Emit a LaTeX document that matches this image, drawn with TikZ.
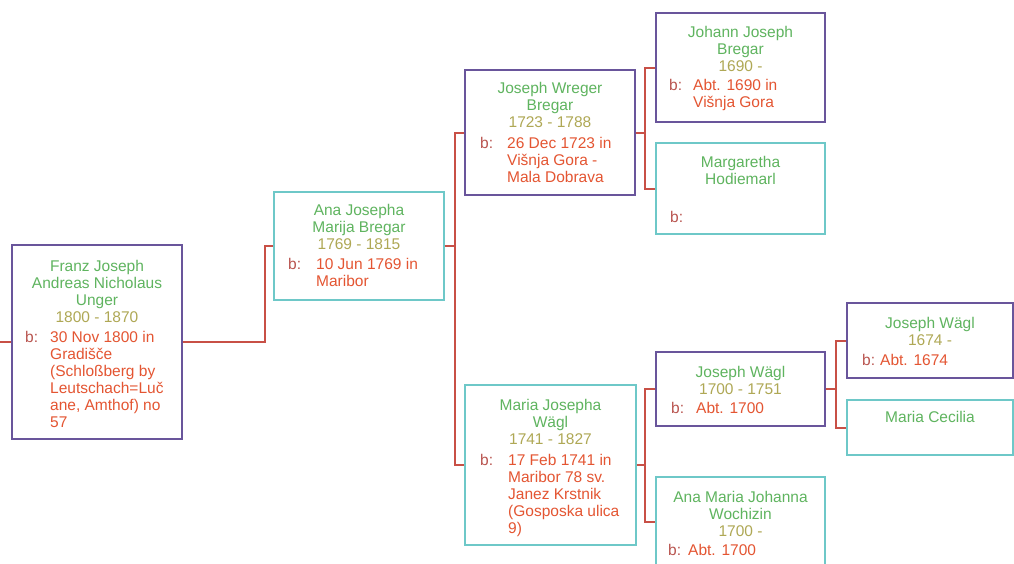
\documentclass[tikz,border=0pt]{standalone}
\usepackage{fontspec}
\setmainfont{Liberation Sans}
\definecolor{pborder}{RGB}{105,85,155}
\definecolor{cborder}{RGB}{110,200,200}
\definecolor{namegreen}{RGB}{95,180,95}
\definecolor{datecol}{RGB}{175,168,85}
\definecolor{bcol}{RGB}{185,85,80}
\definecolor{birthred}{RGB}{228,85,50}
\definecolor{linkred}{RGB}{200,80,70}
\tikzset{
  person/.style={draw, line width=1.8pt, fill=white, inner sep=0pt},
  dadbox/.style={person, draw=pborder},
  mombox/.style={person, draw=cborder},
  txt/.style={inner sep=0pt, font=\fontsize{15.5}{17}\selectfont},
  hdr/.style={txt, anchor=north, align=center, text=namegreen},
  blab/.style={txt, anchor=north west, text=bcol},
  btxt/.style={txt, anchor=north west, align=left, text=birthred},
  link/.style={draw=linkred, line width=2pt}
}
\begin{document}
\begin{tikzpicture}[x=1pt,y=-1pt]
\clip (0,0) rectangle (1014,563);
\fill[white] (0,0) rectangle (1014,563);

% boxes
\node[dadbox, minimum width=170pt, minimum height=194pt] (p1) at (97,342) {};
\node[mombox, minimum width=170pt, minimum height=108pt] (p2) at (359,246) {};
\node[dadbox, minimum width=170pt, minimum height=125pt] (p3) at (550,132.5) {};
\node[mombox, minimum width=171pt, minimum height=160pt] (p4) at (550.5,465) {};
\node[dadbox, minimum width=169pt, minimum height=109pt] (p5) at (740.5,67.5) {};
\node[mombox, minimum width=169pt, minimum height=91pt] (p6) at (740.5,188.5) {};
\node[dadbox, minimum width=169pt, minimum height=74pt] (p7) at (740.5,389) {};
\node[mombox, minimum width=169pt, minimum height=90pt] (p8) at (740.5,522) {};
\node[dadbox, minimum width=166pt, minimum height=75pt] (p9) at (930,340.5) {};
\node[mombox, minimum width=166pt, minimum height=55pt] (p10) at (930,427.5) {};

% texts
\node[hdr] (p1h) at (97,259) {\strut Franz Joseph\\Andreas Nicholaus\\Unger\\\textcolor{datecol}{1800 - 1870}};
\node[blab] (p1b) at (25,330) {\strut b:};
\node[btxt] (p1t) at (50,330) {\strut 30 Nov 1800 in\\Gradišče\\(Schloßberg by\\Leutschach=Luč\\ane, Amthof) no\\57};

\node[hdr] (p2h) at (359,203) {\strut Ana Josepha\\Marija Bregar\\\textcolor{datecol}{1769 - 1815}};
\node[blab] (p2b) at (288,257) {\strut b:};
\node[btxt] (p2t) at (316,257) {\strut 10 Jun 1769 in\\Maribor};

\node[hdr] (p3h) at (550,81) {\strut Joseph Wreger\\Bregar\\\textcolor{datecol}{1723 - 1788}};
\node[blab] (p3b) at (480,136) {\strut b:};
\node[btxt] (p3t) at (507,136) {\strut 26 Dec 1723 in\\Višnja Gora -\\Mala Dobrava};

\node[hdr] (p4h) at (550.5,398) {\strut Maria Josepha\\Wägl\\\textcolor{datecol}{1741 - 1827}};
\node[blab] (p4b) at (480,453) {\strut b:};
\node[btxt] (p4t) at (508,453) {\strut 17 Feb 1741 in\\Maribor 78 sv.\\Janez Krstnik\\(Gosposka ulica\\9)};

\node[hdr] (p5h) at (740.5,25) {\strut Johann Joseph\\Bregar\\\textcolor{datecol}{1690 -}};
\node[blab] (p5b) at (669,78) {\strut b:};
\node[btxt] (p5t) at (693,78) {\strut Abt. 1690 in\\Višnja Gora};

\node[hdr] (p6h) at (740.5,155) {\strut Margaretha\\Hodiemarl};
\node[blab] (p6b) at (670,210) {\strut b:};

\node[hdr] (p7h) at (740.5,365) {\strut Joseph Wägl\\\textcolor{datecol}{1700 - 1751}};
\node[blab] (p7b) at (671,401) {\strut b:};
\node[btxt] (p7t) at (696,401) {\strut Abt. 1700};

\node[hdr] (p8h) at (740.5,490) {\strut Ana Maria Johanna\\Wochizin\\\textcolor{datecol}{1700 -}};
\node[blab] (p8b) at (668,543) {\strut b:};
\node[btxt] (p8t) at (688,543) {\strut Abt. 1700};

\node[hdr] (p9h) at (930,316) {\strut Joseph Wägl\\\textcolor{datecol}{1674 -}};
\node[blab] (p9b) at (862,353) {\strut b:};
\node[btxt] (p9t) at (880,353) {\strut Abt. 1674};

\node[hdr] (p10h) at (930,410) {\strut Maria Cecilia};

% connectors
\coordinate (lstub) at (0,342);
\coordinate (j1) at (265,0);
\coordinate (j2) at (455,0);
\coordinate (j3) at (645,0);
\coordinate (j4) at (836,0);
\draw[link] (lstub) -- (p1.west);
\draw[link] (p1.east) -| (j1 |- p2.west) -- (p2.west);
\draw[link] (p2.east) -- (j2 |- p2.east);
\draw[link] (p3.west) -- (j2 |- p3.west) -- (j2 |- p4.west) -- (p4.west);
\draw[link] (p3.east) -- (j3 |- p3.east);
\draw[link] (p5.west) -- (j3 |- p5.west) -- (j3 |- p6.west) -- (p6.west);
\draw[link] (p4.east) -- (j3 |- p4.east);
\draw[link] (p7.west) -- (j3 |- p7.west) -- (j3 |- p8.west) -- (p8.west);
\draw[link] (p7.east) -- (j4 |- p7.east);
\draw[link] (p9.west) -- (j4 |- p9.west) -- (j4 |- p10.west) -- (p10.west);
\end{tikzpicture}
\end{document}
